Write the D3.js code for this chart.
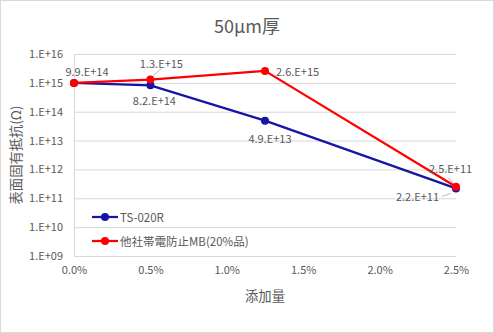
<!DOCTYPE html>
<html><head><meta charset="utf-8">
<script src="https://cdn.jsdelivr.net/npm/d3@7"></script>
<style>
body{margin:0;background:#fff;}
svg{display:block;font-family:"Noto Sans CJK JP","Noto Sans",sans-serif;}
</style></head><body>
<svg id="c" width="494" height="333"></svg>
<script>
const xValues = [0, 0.005, 0.0125, 0.025];
const seriesNames = ["TS-020R", "他社帯電防止MB(20%品)"];
const seriesColors = ["#1515a6", "#ff0000"];
const blueValues = [9.9e14, 8.2e14, 4.9e13, 2.2e11];
const redValues = [9.9e14, 1.3e15, 2.6e15, 2.5e11];
const blueLabels = ["", "8.2.E+14", "4.9.E+13", "2.2.E+11"];
const redLabels = ["9.9.E+14", "1.3.E+15", "2.6.E+15", "2.5.E+11"];
const yTicks = [1e9, 1e10, 1e11, 1e12, 1e13, 1e14, 1e15, 1e16];
const yTickLabels = ["1.E+09","1.E+10","1.E+11","1.E+12","1.E+13","1.E+14","1.E+15","1.E+16"];
const xTicks = [0, 0.005, 0.01, 0.015, 0.02, 0.025];
const xTickLabels = ["0.0%","0.5%","1.0%","1.5%","2.0%","2.5%"];

const svg = d3.select("#c");
const W = 494, H = 333;
const L = 74, R = 456, T = 54, B = 256;
const x = d3.scaleLinear().domain([0, 0.025]).range([L, R]);
const y = d3.scaleLog().domain([1e9, 1e16]).range([B, T]);
const txt = "#595959";

svg.append("rect").attr("x",0.5).attr("y",0.5).attr("width",W-1).attr("height",H-1)
  .attr("fill","#fff").attr("stroke","#d9d9d9");

// title
svg.append("text").attr("x",247).attr("y",33).attr("text-anchor","middle")
  .attr("font-size",18).attr("fill",txt).text("50μm厚");

// y gridlines + axis
const yAxis = d3.axisLeft(y).tickValues(yTicks).tickSize(-(R-L))
  .tickFormat((d,i)=>yTickLabels[i]);
const gy = svg.append("g").attr("transform",`translate(${L},0)`).call(yAxis);
gy.select(".domain").remove();
gy.selectAll(".tick line").attr("stroke","#d9d9d9");
gy.selectAll(".tick text").attr("fill",txt).attr("font-size",11).attr("x",-11)
  .attr("font-family","'Noto Sans CJK JP',sans-serif");

// x axis
const xAxis = d3.axisBottom(x).tickValues(xTicks).tickSize(0)
  .tickFormat((d,i)=>xTickLabels[i]);
const gx = svg.append("g").attr("transform",`translate(0,${B})`).call(xAxis);
gx.select(".domain").attr("stroke","#d9d9d9");
gx.selectAll(".tick text").attr("fill",txt).attr("font-size",11).attr("dy","1.05em").attr("y",6)
  .attr("font-family","'Noto Sans CJK JP',sans-serif");
svg.append("line").attr("x1",L+0.5).attr("x2",L+0.5).attr("y1",T).attr("y2",B).attr("stroke","#d9d9d9");

// axis titles
svg.append("text").attr("x",(L+R)/2).attr("y",301).attr("text-anchor","middle")
  .attr("font-size",13.3).attr("fill",txt).text("添加量");
svg.append("text").attr("transform",`translate(21,${(T+B)/2}) rotate(-90)`)
  .attr("text-anchor","middle").attr("font-size",13.3).attr("fill",txt).text("表面固有抵抗(Ω)");

// lines
const line = d3.line().x((d,i)=>x(xValues[i])).y(d=>y(d));
[blueValues, redValues].forEach((vals, s)=>{
  svg.append("path").attr("d", line(vals)).attr("fill","none")
    .attr("stroke", seriesColors[s]).attr("stroke-width",2.25).attr("stroke-linejoin","round");
  svg.selectAll(null).data(vals).enter().append("circle")
    .attr("cx",(d,i)=>x(xValues[i])).attr("cy",d=>y(d)).attr("r",4)
    .attr("fill",seriesColors[s]);
});

// data labels (offsets relative to points)
const lab = (s, i, dx, dy, anchor) => {
  const vals = s===0?blueValues:redValues;
  const labels = s===0?blueLabels:redLabels;
  svg.append("text").attr("x", x(xValues[i])+dx).attr("y", y(vals[i])+dy)
    .attr("text-anchor", anchor).attr("font-size",11).attr("fill",txt)
    .attr("dominant-baseline","central").text(labels[i]);
};
lab(1,0,13,-12,"middle");
lab(1,1,11,-17,"middle");
lab(1,2,11,0,"start");
lab(1,3,-27,-19,"start");
lab(0,1,4,15,"middle");
lab(0,2,5,17,"middle");
lab(0,3,-17,8,"end");
// leader lines
const lead = (x1,y1,x2,y2)=>svg.append("line").attr("x1",x1).attr("y1",y1).attr("x2",x2).attr("y2",y2)
  .attr("stroke","#a6a6a6").attr("stroke-width",0.75);
lead(x(xValues[1])+3, y(redValues[1])-4, x(xValues[1])+11, y(redValues[1])-11);
lead(x(xValues[3])-8, y(redValues[3])-9, x(xValues[3])-2, y(redValues[3])-3);
lead(x(xValues[3])-14, y(blueValues[3])+8, x(xValues[3])-5, y(blueValues[3])+5);

// legend
const legY = [217, 241];
seriesNames.forEach((n, s)=>{
  const g = svg.append("g");
  g.append("line").attr("x1",92).attr("x2",118).attr("y1",legY[s]).attr("y2",legY[s])
    .attr("stroke",seriesColors[s]).attr("stroke-width",2.25);
  g.append("circle").attr("cx",105).attr("cy",legY[s]).attr("r",4).attr("fill",seriesColors[s]);
  g.append("text").attr("x",120).attr("y",legY[s]).attr("dominant-baseline","central")
    .attr("font-size",11.5).attr("fill",txt).text(n);
});
</script>
</body></html>
